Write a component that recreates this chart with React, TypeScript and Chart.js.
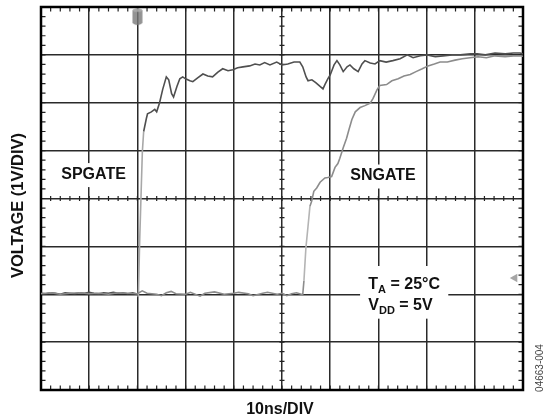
import React, { useEffect, useRef } from "react";
import { Chart, registerables } from "chart.js";
Chart.register(...registerables);

// Axis ranges (10 ns/div horizontally, 1 V/div vertically)
const timeMin = 0;
const timeMax = 100;
const timeStep = 10;
const voltMin = -2;
const voltMax = 6;
const voltStep = 1;

// SPGATE trace (ns, V)
const spgateTime = [
  0, 1, 2, 3, 4, 5, 6, 7, 8, 9, 10, 11, 12, 13, 14, 15, 16, 17, 18, 19, 20,
  20.2, 20.47, 20.78, 21.03, 21.3, 21.86, 22.1, 22.9, 23.6, 24.0, 24.6, 25.25, 26.0, 26.5,
  27.1, 27.5, 28.2, 28.8, 29.4, 30.0, 30.9, 31.5, 32.5, 33.6, 34.6, 35.6, 36.7, 37.7,
  38.8, 39.8, 40.8, 41.9, 43.3, 44.4, 45.4, 46.4, 47.5, 48.9, 50.0, 51.2, 52.5, 53.7,
  54.3, 55.0, 55.4, 56.2, 57.0, 57.9, 58.5, 58.9, 59.5, 60.0, 60.8, 61.4, 62.0, 62.7,
  63.5, 64.1, 64.9, 65.8, 66.6, 67.2, 68.3, 69.3, 70.3, 71.6, 73.0, 74.5, 76.0, 77.2,
  78.7, 80.1, 81.8, 83.4, 85.3, 87.0, 89.1, 90.5, 92.2, 94.2, 96.3, 98.0, 99.4, 100,
];
const spgateVolts = [
  0.02, 0.01, 0.03, 0.02, 0.0, 0.03, 0.02, 0.01, 0.03, 0.02, 0.04, 0.02, 0.01, 0.03, 0.02, 0.04, 0.02, 0.03, 0.01, 0.03, 0.0,
  -0.06, 1.11, 2.15, 2.98, 3.4, 3.67, 3.77, 3.81, 3.86, 3.81, 4.0, 4.28, 4.54, 4.48,
  4.19, 4.12, 4.34, 4.5, 4.54, 4.5, 4.46, 4.44, 4.52, 4.6, 4.56, 4.54, 4.64, 4.71,
  4.67, 4.69, 4.73, 4.75, 4.77, 4.81, 4.79, 4.84, 4.79, 4.85, 4.79, 4.81, 4.85, 4.85,
  4.75, 4.54, 4.46, 4.48, 4.42, 4.34, 4.29, 4.38, 4.5, 4.58, 4.79, 4.88, 4.79, 4.65,
  4.75, 4.79, 4.71, 4.65, 4.81, 4.88, 4.83, 4.81, 4.88, 4.85, 4.88, 4.92, 5.0, 4.94,
  4.98, 5.0, 4.96, 4.98, 5.0, 5.0, 5.02, 5.02, 5.0, 5.04, 5.02, 5.04, 5.04, 5.02,
];

// SNGATE trace (ns, V)
const sngateTime = [
  0, 2, 4, 6, 8, 10, 12, 14, 16, 18, 20, 21, 22, 24, 25, 26, 27, 28, 30, 31, 33, 34, 36,
  38, 40, 41, 43, 44, 46, 47, 49, 50, 51, 52, 53, 54,
  54.3, 54.55, 54.96, 55.4, 55.8, 56.15, 56.6, 57.2, 57.9, 58.9, 59.5, 60.3, 61.0, 61.6,
  62.0, 62.7, 63.4, 63.9, 64.5, 65.2, 66.2, 67.2, 68.3, 68.9, 69.7, 70.3, 71.7, 72.8,
  74.1, 75.3, 76.6, 77.8, 79.1, 80.3, 81.6, 82.8, 84.3, 85.9, 87.4, 89.0, 90.7, 92.4,
  94.2, 96.3, 98.0, 99.4, 100,
];
const sngateVolts = [
  0.01, 0.03, 0.0, 0.02, 0.03, 0.01, 0.02, 0.0, 0.03, 0.02, 0.01, 0.07, 0.02, 0.0, -0.03, 0.03, 0.06, 0.01, 0.0, 0.04, -0.04, 0.02, 0.05,
  0.0, 0.02, 0.04, 0.01, -0.03, 0.02, 0.04, 0.0, 0.02, -0.03, 0.01, 0.03, 0.0,
  -0.01, 0.28, 0.97, 1.42, 1.84, 1.94, 2.15, 2.22, 2.34, 2.43, 2.44, 2.46, 2.65, 2.73,
  2.84, 3.06, 3.26, 3.44, 3.65, 3.81, 3.9, 3.94, 3.99, 4.09, 4.27, 4.36, 4.38, 4.46,
  4.5, 4.56, 4.59, 4.65, 4.71, 4.77, 4.81, 4.85, 4.85, 4.89, 4.92, 4.94, 4.96, 4.94,
  4.98, 4.96, 4.98, 4.98, 4.97,
];

// Scope markers
const triggerTime = [20];
const triggerVolt = [5.8];
const levelTime = [98.3];
const levelVolt = [0.34];

// Text
const traceLabels = ["SPGATE", "SNGATE"];
const traceLabelTime = [10.9, 70.96];
const traceLabelVolt = [2.51, 2.48];
const yTitle = "VOLTAGE (1V/DIV)";
const xTitle = "10ns/DIV";
const figureId = "04663-004";

const FONT = '"Liberation Sans", Arial, Helvetica, sans-serif';

function makeTriggerImage(): HTMLCanvasElement {
  const c = document.createElement("canvas");
  c.width = 11;
  c.height = 19;
  const g = c.getContext("2d")!;
  g.fillStyle = "rgba(120,120,120,0.8)";
  g.beginPath();
  g.moveTo(0.5, 3);
  g.quadraticCurveTo(5.5, -1, 10.5, 3);
  g.lineTo(10.5, 16);
  g.quadraticCurveTo(5.5, 20, 0.5, 16);
  g.closePath();
  g.fill();
  g.fillStyle = "rgba(175,175,175,0.8)";
  g.beginPath();
  g.ellipse(5.5, 3.2, 4.5, 1.6, 0, 0, Math.PI * 2);
  g.fill();
  return c;
}

const scopePlugin = {
  id: "scopeDecor",
  beforeDatasetsDraw(chart: any) {
    const { ctx, chartArea: a, scales } = chart;
    const x = scales.x;
    const y = scales.y;
    ctx.save();
    // minor ticks
    const xc = x.getPixelForValue((timeMin + timeMax) / 2);
    const yc = y.getPixelForValue((voltMin + voltMax) / 2);
    ctx.strokeStyle = "#222";
    ctx.lineWidth = 1.2;
    ctx.beginPath();
    const nx = Math.round(((timeMax - timeMin) / timeStep) * 5);
    for (let i = 0; i <= nx; i++) {
      const px = x.getPixelForValue(timeMin + (i * timeStep) / 5);
      ctx.moveTo(px, a.top);
      ctx.lineTo(px, a.top + 4.5);
      ctx.moveTo(px, a.bottom);
      ctx.lineTo(px, a.bottom - 4.5);
      ctx.moveTo(px, yc - 2.5);
      ctx.lineTo(px, yc + 2.5);
    }
    const ny = Math.round(((voltMax - voltMin) / voltStep) * 5);
    for (let i = 0; i <= ny; i++) {
      const py = y.getPixelForValue(voltMin + (i * voltStep) / 5);
      ctx.moveTo(a.left, py);
      ctx.lineTo(a.left + 4.5, py);
      ctx.moveTo(a.right, py);
      ctx.lineTo(a.right - 4.5, py);
      ctx.moveTo(xc - 2.5, py);
      ctx.lineTo(xc + 2.5, py);
    }
    ctx.stroke();
    // frame
    ctx.lineWidth = 2.5;
    ctx.strokeStyle = "#000";
    ctx.strokeRect(a.left, a.top, a.right - a.left, a.bottom - a.top);

    // trace labels with white boxes
    ctx.font = `bold 16px ${FONT}`;
    ctx.textAlign = "center";
    ctx.textBaseline = "middle";
    traceLabels.forEach((t, i) => {
      const px = x.getPixelForValue(traceLabelTime[i]);
      const py = y.getPixelForValue(traceLabelVolt[i]);
      const w = ctx.measureText(t).width + 14;
      ctx.fillStyle = "#fff";
      ctx.fillRect(px - w / 2, py - 11, w, 24);
      ctx.fillStyle = "#111";
      ctx.fillText(t, px, py + 0.5);
    });

    // conditions box
    const bx0 = x.getPixelForValue(66.2);
    const bx1 = x.getPixelForValue(84.5);
    const by0 = y.getPixelForValue(0.59);
    const by1 = y.getPixelForValue(-0.51);
    ctx.fillStyle = "#fff";
    ctx.fillRect(bx0, by0, bx1 - bx0, by1 - by0);
    ctx.fillStyle = "#111";
    ctx.textAlign = "left";
    ctx.textBaseline = "alphabetic";
    const tx = x.getPixelForValue(67.9);
    const l1 = y.getPixelForValue(0.12);
    const l2 = y.getPixelForValue(-0.33);
    const drawSub = (main: string, sub: string, rest: string, bx: number, by: number) => {
      ctx.font = `bold 16px ${FONT}`;
      ctx.fillText(main, bx, by);
      let cx = bx + ctx.measureText(main).width;
      ctx.font = `bold 11px ${FONT}`;
      ctx.fillText(sub, cx, by + 4);
      cx += ctx.measureText(sub).width;
      ctx.font = `bold 16px ${FONT}`;
      ctx.fillText(rest, cx, by);
    };
    drawSub("T", "A", " = 25°C", tx, l1);
    drawSub("V", "DD", " = 5V", tx, l2);

    // axis titles
    ctx.fillStyle = "#111";
    ctx.font = `bold 16px ${FONT}`;
    ctx.textAlign = "center";
    ctx.textBaseline = "alphabetic";
    ctx.fillText(xTitle, (a.left + a.right) / 2 - 2, a.bottom + 23.5);
    ctx.save();
    ctx.translate(a.left - 18.5, (a.top + a.bottom) / 2 + 7);
    ctx.rotate(-Math.PI / 2);
    ctx.font = `bold 16.5px ${FONT}`;
    ctx.fillText(yTitle, 0, 0);
    ctx.restore();
    ctx.save();
    ctx.translate(a.right + 17.5, a.bottom - 22);
    ctx.rotate(-Math.PI / 2);
    ctx.font = `10px ${FONT}`;
    ctx.fillStyle = "#444";
    ctx.textAlign = "center";
    ctx.textBaseline = "middle";
    ctx.fillText(figureId, 0, 0);
    ctx.restore();
    ctx.restore();
  },
};

function toPoints(t: number[], v: number[]) {
  return t.map((tt, i) => ({ x: tt, y: v[i] }));
}

export default function App() {
  const ref = useRef<HTMLCanvasElement>(null);
  useEffect(() => {
    const canvas = ref.current!;
    const trig = makeTriggerImage();
    const steep = (dark: string, light: string) => (c: any) => {
      const dx = Math.abs(c.p1.x - c.p0.x);
      const dy = Math.abs(c.p1.y - c.p0.y);
      return dy > 4 * dx && dy > 15 ? light : dark;
    };
    const chart = new Chart(canvas, {
      type: "line",
      data: {
        datasets: [
          {
            label: "SNGATE",
            data: toPoints(sngateTime, sngateVolts),
            borderColor: "#8c8c8c",
            borderWidth: 1.6,
            pointRadius: 0,
            tension: 0,
            segment: { borderColor: steep("#8c8c8c", "#b4b4b4") },
          },
          {
            label: "SPGATE",
            data: toPoints(spgateTime, spgateVolts),
            borderColor: "#4f4f4f",
            borderWidth: 1.6,
            pointRadius: 0,
            tension: 0,
            segment: { borderColor: steep("#4f4f4f", "#a8a8a8") },
          },
          {
            type: "scatter",
            label: "trigger",
            data: toPoints(triggerTime, triggerVolt),
            pointStyle: trig,
            pointRadius: 6,
          },
          {
            type: "scatter",
            label: "level",
            data: toPoints(levelTime, levelVolt),
            pointStyle: "triangle",
            rotation: 270,
            pointRadius: 5,
            backgroundColor: "rgba(150,150,150,0.85)",
            borderColor: "rgba(150,150,150,0.85)",
            borderWidth: 0,
          },
        ] as any,
      },
      options: {
        responsive: false,
        animation: false,
        events: [],
        layout: { padding: { left: 41, top: 4, right: 20, bottom: 30 } },
        plugins: { legend: { display: false }, tooltip: { enabled: false } },
        scales: {
          x: {
            type: "linear",
            min: timeMin,
            max: timeMax,
            ticks: { stepSize: timeStep, display: false },
            grid: { color: "#2a2a2a", lineWidth: 1.5, drawTicks: false, tickLength: 0 },
            border: { display: false },
          },
          y: {
            type: "linear",
            min: voltMin,
            max: voltMax,
            ticks: { stepSize: voltStep, display: false },
            grid: { color: "#2a2a2a", lineWidth: 1.5, drawTicks: false, tickLength: 0 },
            border: { display: false },
          },
        },
      },
      plugins: [scopePlugin],
    });
    return () => chart.destroy();
  }, []);
  return (
    <div style={{ position: "fixed", left: 0, top: 0, width: 543, height: 420, background: "#fff" }}>
      <canvas ref={ref} width={543} height={420} style={{ display: "block" }} />
    </div>
  );
}
